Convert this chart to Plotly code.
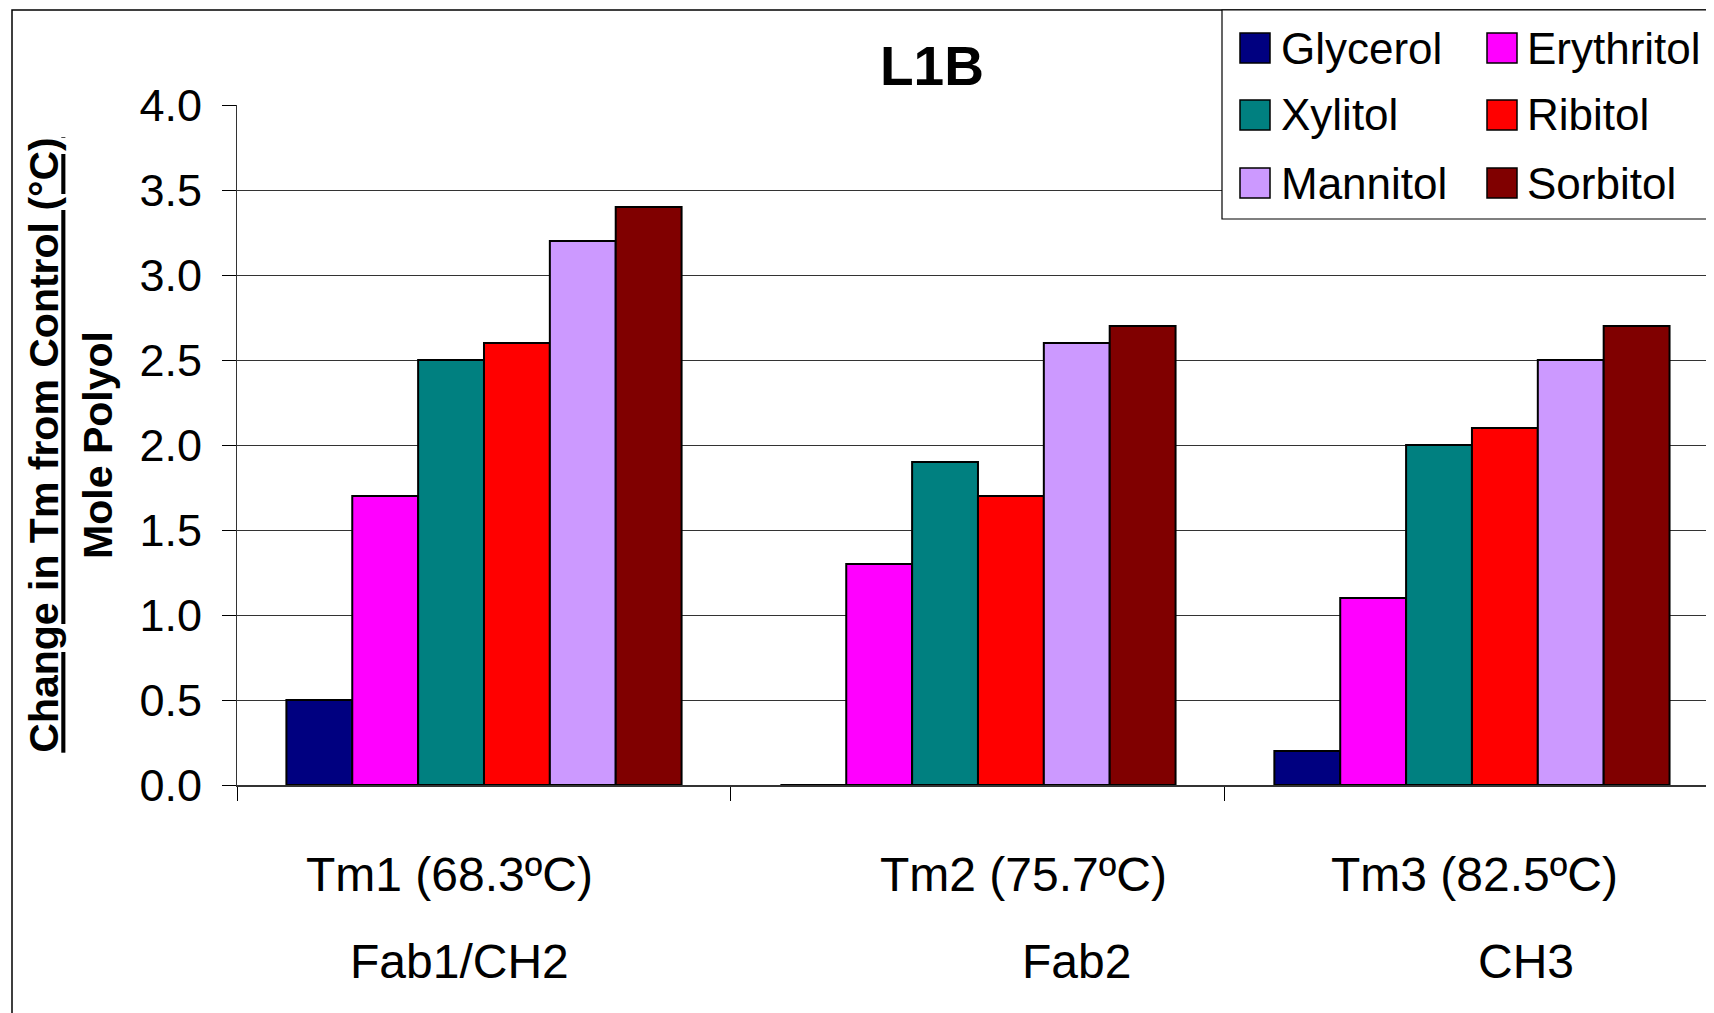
import plotly.graph_objects as go

# ---------------- data ----------------
categories = ["Tm1 (68.3ºC)", "Tm2 (75.7ºC)", "Tm3 (82.5ºC)"]
domains = ["Fab1/CH2", "Fab2", "CH3"]
series_names = ["Glycerol", "Erythritol", "Xylitol", "Ribitol", "Mannitol", "Sorbitol"]
glycerol = [0.5, 0.0, 0.2]
erythritol = [1.7, 1.3, 1.1]
xylitol = [2.5, 1.9, 2.0]
ribitol = [2.6, 1.7, 2.1]
mannitol = [3.2, 2.6, 2.5]
sorbitol = [3.4, 2.7, 2.7]
series_values = [glycerol, erythritol, xylitol, ribitol, mannitol, sorbitol]
colors = ["#000080", "#FF00FF", "#008080", "#FF0000", "#CC99FF", "#800000"]
y_ticks = [0.0, 0.5, 1.0, 1.5, 2.0, 2.5, 3.0, 3.5, 4.0]

# label offsets (in category units) as they appear in the original layout
cat_label_offsets = [-0.07, 0.093, 0.006]
dom_label_offsets = [-0.05, 0.2, 0.11]

# ---------------- layout geometry ----------------
OFF = 8  # page body margin
W, H = 1714 - OFF, 1013 - OFF
L, R, T = 237 - OFF, 0, 105 - OFF
B = H - (785 - OFF)
FONT = "Arial, 'Liberation Sans', sans-serif"


def px_x(px):
    return (px - OFF - L) / (W - L - R)


def px_y(py):
    return (H - B - (py - OFF)) / (H - T - B)


xpos = list(range(len(categories)))

fig = go.Figure()
for name, vals, col in zip(series_names, series_values, colors):
    fig.add_trace(go.Bar(
        x=xpos, y=vals, name=name,
        marker=dict(color=col, line=dict(color="black", width=2)),
        showlegend=False,
    ))

shapes = []
annotations = []

# outer chart border
shapes.append(dict(type="rect", xref="paper", yref="paper",
                   x0=px_x(12), x1=px_x(1730), y0=px_y(10), y1=px_y(1030),
                   line=dict(color="black", width=1.5), fillcolor="rgba(0,0,0,0)",
                   layer="above"))

# legend box
shapes.append(dict(type="rect", xref="paper", yref="paper",
                   x0=px_x(1222), x1=px_x(1730), y0=px_y(10), y1=px_y(219),
                   line=dict(color="black", width=1.2), fillcolor="white",
                   layer="above"))
col_sw = [1240, 1487]
col_tx = [1279, 1525]
row_cy = [48, 115, 183]
for i, (name, col) in enumerate(zip(series_names, colors)):
    r, c = divmod(i, 2)
    cy = row_cy[r]
    shapes.append(dict(type="rect", xref="paper", yref="paper",
                       x0=px_x(col_sw[c]), x1=px_x(col_sw[c] + 30),
                       y0=px_y(cy - 15), y1=px_y(cy + 15),
                       line=dict(color="black", width=1.5), fillcolor=col,
                       layer="above"))
    annotations.append(dict(xref="paper", yref="paper",
                            x=px_x(col_tx[c]), y=px_y(cy),
                            xanchor="left", yanchor="middle", showarrow=False,
                            text=name, font=dict(family=FONT, size=44, color="black")))

# category labels (two rows)
for i, (cat, dom) in enumerate(zip(categories, domains)):
    annotations.append(dict(xref="x", yref="paper",
                            x=xpos[i] + cat_label_offsets[i], y=px_y(874),
                            xanchor="center", yanchor="middle", showarrow=False,
                            text=cat, font=dict(family=FONT, size=48, color="black")))
    annotations.append(dict(xref="x", yref="paper",
                            x=xpos[i] + dom_label_offsets[i], y=px_y(961),
                            xanchor="center", yanchor="middle", showarrow=False,
                            text=dom, font=dict(family=FONT, size=48, color="black")))

# chart title
annotations.append(dict(xref="paper", yref="paper", x=px_x(932), y=px_y(66),
                        xanchor="center", yanchor="middle", showarrow=False,
                        text="<b>L1B</b>", font=dict(family=FONT, size=55, color="black")))

fig.update_layout(
    width=W, height=H,
    margin=dict(l=L, r=R, t=T, b=B, pad=0),
    paper_bgcolor="white", plot_bgcolor="white",
    barmode="group", bargap=0.2, bargroupgap=0,
    font=dict(family=FONT, color="black"),
    shapes=shapes, annotations=annotations,
    xaxis=dict(
        range=[-0.5, 2.49], tickvals=[-0.5, 0.5, 1.5], showticklabels=False,
        ticks="outside", ticklen=14, tickcolor="black", tickwidth=1,
        showline=True, linecolor="#333333", linewidth=2, showgrid=False,
        zeroline=False, fixedrange=True,
    ),
    yaxis=dict(
        range=[0, 4], tickvals=y_ticks, tickformat=".1f",
        ticks="outside", ticklen=14, tickcolor="black", tickwidth=1,
        ticklabelstandoff=11,
        tickfont=dict(family=FONT, size=45, color="black"),
        showline=True, linecolor="#333333", linewidth=1,
        showgrid=True, gridcolor="#333333", gridwidth=1, zeroline=False,
        title=dict(text="<b><u>Change in Tm from Control (°C)</u><br>Mole Polyol</b>",
                   font=dict(family=FONT, size=41, color="black"), standoff=14),
    ),
)

fig.write_html("out.html")
